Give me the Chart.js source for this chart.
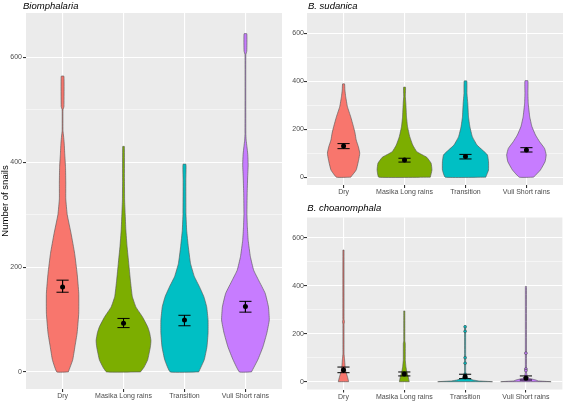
<!DOCTYPE html>
<html><head><meta charset="utf-8">
<script src="https://cdn.jsdelivr.net/npm/chart.js@4.4.0/dist/chart.umd.min.js"></script>
<style>
html,body{margin:0;padding:0;background:#fff;}
body{width:567px;height:401px;position:relative;overflow:hidden;}
canvas{position:absolute;}
</style></head><body>
<canvas id="c1" width="286" height="401" style="left:0;top:0;width:286px;height:401px"></canvas>
<canvas id="c2" width="277" height="200" style="left:290px;top:0;width:277px;height:200px"></canvas>
<canvas id="c3" width="277" height="201" style="left:290px;top:200px;width:277px;height:201px"></canvas>
<script>
// ---- DATA ----
const categories = ['Dry', 'Masika Long rains', 'Transition', 'Vuli Short rains'];
const yTicks = [0, 100, 200, 300, 400, 500, 600];

// violin profiles: [number of snails, relative density width]
// Biomphalaria
const bioDry = [[0,.21],[23,.37],[48,.45],[74,.53],[112,.59],[150,.59],[188,.53],[226,.44],[264,.31],[300,.17],[330,.117],[360,.117],[390,.108],[415,.08],[436,.06],[450,.036],[460,.015],[500,.015],[506,.05],[564,.05]];
const bioMasika = [[0,.62],[10,.76],[23,.88],[48,.98],[60,1],[75,.95],[86,.88],[105,.69],[124,.45],[144,.32],[175,.25],[207,.19],[239,.13],[271,.085],[302,.06],[328,.04],[366,.035],[430,.03]];
const bioTransition = [[0,.52],[23,.72],[48,.82],[74,.86],[99,.86],[124,.81],[143,.71],[162,.55],[182,.36],[207,.22],[239,.14],[270,.08],[302,.054],[366,.05],[396,.054]];
const bioVuli = [[0,.22],[23,.45],[48,.64],[74,.78],[99,.87],[124,.84],[150,.72],[175,.48],[194,.30],[220,.18],[251,.10],[277,.07],[302,.054],[340,.063],[370,.08],[395,.1],[415,.085],[430,.054],[442,.027],[455,.015],[605,.015],[612,.05],[645,.05]];
const bioMean = [162, 93, 99, 125];
const bioLow = [152, 84.5, 88, 114];
const bioHigh = [175, 102, 108, 134.6];

// B. sudanica
const sudDry = [[0,.26],[30,.46],[72,.55],[100,.59],[127,.54],[155,.46],[183,.42],[211,.36],[252,.26],[294,.14],[336,.077],[364,.048],[389,.036]];
const sudMasika = [[0,.94],[30,1],[58,.97],[83,.81],[106,.45],[134,.30],[169,.19],[211,.11],[252,.072],[308,.048],[336,.03],[375,.036]];
const sudTransition = [[0,.74],[30,.84],[65,.84],[93,.80],[113,.62],[134,.42],[169,.25],[211,.16],[252,.11],[308,.084],[350,.054],[401,.048]];
const sudVuli = [[0,.26],[30,.51],[65,.68],[93,.72],[120,.66],[148,.48],[176,.33],[211,.20],[252,.12],[308,.066],[350,.054],[402,.054]];
const sudMean = [130, 72, 86, 113];
const sudLow = [119, 63, 76, 105];
const sudHigh = [140, 79, 95, 123];

// B. choanomphala
const choDry = [[0,.19],[21,.144],[42,.085],[62,.06],[97,.036],[115,.02],[240,.02],[250,.036],[260,.02],[549,.02]];
const choMasika = [[0,.18],[21,.144],[42,.09],[62,.06],[90,.036],[160,.036],[170,.02],[295,.02]];
const choTransition = [[0,1],[3,.5],[7,.29],[14,.12],[21,.054],[30,.04],[40,.02],[229,.02]];
const choVuli = [[0,.92],[3,.45],[7,.36],[14,.12],[21,.054],[30,.036],[40,.02],[397,.02]];
const choMean = [49, 32, 21, 14];
const choLow = [37.5, 24, 12.5, 7];
const choHigh = [61, 40.5, 31, 24];
const choTransitionPoints = [229, 210, 100, 77, 30];
const choVuliPoints = [119, 53, 46];

// ---- STYLE ----
const colors = ['#F8766D', '#7CAE00', '#00BFC4', '#C77CFF'];
const FONT = '"Liberation Sans", Arial, sans-serif';

const bgPlugin = {
  id: 'panelBg',
  beforeDraw(chart) {
    const a = chart.chartArea, ctx = chart.ctx;
    ctx.save(); ctx.fillStyle = '#EBEBEB';
    ctx.fillRect(a.left, a.top, a.right - a.left, a.bottom - a.top);
    ctx.restore();
  }
};
const titlePlugin = {
  id: 'panelTitle',
  afterDraw(chart, args, opts) {
    const ctx = chart.ctx;
    ctx.save();
    ctx.font = 'italic 9.5px ' + FONT;
    ctx.fillStyle = '#000';
    ctx.textBaseline = 'alphabetic';
    ctx.textAlign = 'left';
    ctx.fillText(opts.text, opts.x, opts.y);
    ctx.restore();
  }
};

function makePanel(id, cfg) {
  const datasets = [];
  cfg.violins.forEach((prof, i) => {
    const cx = i + 1;
    const right = prof.map(([v, w]) => ({x: cx + w * 0.45, y: v}));
    const left = prof.slice().reverse().map(([v, w]) => ({x: cx - w * 0.45, y: v}));
    const pts = right.concat(left);
    pts.push(right[0]);
    datasets.push({data: pts, showLine: true, fill: 'shape', backgroundColor: colors[i],
      borderColor: 'rgba(85,85,85,0.9)', borderWidth: 0.7, pointRadius: 0,
      tension: cfg.tension, capBezierPoints: false, order: 3});
  });
  (cfg.jitter || []).forEach(j => {
    datasets.push({data: j.values.map(v => ({x: j.cat + 1, y: v})), showLine: false,
      pointRadius: 1.4, pointBackgroundColor: colors[j.cat], pointBorderColor: '#444', pointBorderWidth: 0.6, order: 2});
  });
  cfg.mean.forEach((m, i) => {
    const cx = i + 1, lo = cfg.low[i], hi = cfg.high[i];
    datasets.push({data: [{x: cx - 0.1, y: hi}, {x: cx + 0.1, y: hi}, {x: cx, y: null}, {x: cx, y: hi}, {x: cx, y: lo}, {x: cx, y: null}, {x: cx - 0.1, y: lo}, {x: cx + 0.1, y: lo}],
      showLine: true, spanGaps: false, borderColor: '#000', borderWidth: 1, pointRadius: 0, order: 1});
  });
  datasets.push({data: cfg.mean.map((m, i) => ({x: i + 1, y: m})), showLine: false,
    pointRadius: 2.5, pointBackgroundColor: '#000', pointBorderColor: '#000', pointBorderWidth: 0, order: 0});

  return new Chart(document.getElementById(id), {
    type: 'scatter',
    data: {datasets},
    plugins: [bgPlugin, titlePlugin],
    options: {
      responsive: false, animation: false, devicePixelRatio: 1,
      layout: {padding: cfg.padding},
      plugins: {legend: {display: false}, tooltip: {enabled: false},
        panelTitle: cfg.title},
      scales: {
        x: {
          type: 'linear', min: 0.4, max: 4.6,
          afterBuildTicks: s => { s.ticks = categories.map((c, i) => ({value: i + 1})); },
          afterFit: s => { s.height = cfg.xH; },
          ticks: {callback: v => categories[Math.round(v) - 1], color: '#4D4D4D', font: {size: 7, family: FONT}, padding: 0, maxRotation: 0, autoSkip: false},
          grid: {color: '#FFFFFF', lineWidth: 1.1, tickColor: '#333333', tickLength: 3},
          border: {display: false}
        },
        y: {
          type: 'linear', min: -32.6, max: 684.6,
          afterBuildTicks: s => { s.ticks = yTicks.map(v => ({value: v})); },
          afterFit: s => { s.width = cfg.yW; },
          ticks: {callback: v => (v % 200 === 0 ? String(v) : ''), color: '#4D4D4D', font: {size: 7, family: FONT}, padding: cfg.yPad, autoSkip: false},
          grid: {color: '#FFFFFF',
            lineWidth: c => (c.tick && c.tick.value % 200 === 0 ? 1.1 : 0.5),
            tickColor: c => (c.tick && c.tick.value % 200 === 0 ? '#333333' : 'rgba(0,0,0,0)'),
            tickLength: 3},
          border: {display: false},
          title: cfg.yTitle ? {display: true, text: 'Number of snails', color: '#000', font: {size: 9.5, family: FONT}, padding: 0} : {display: false}
        }
      }
    }
  });
}

makePanel('c1', {
  violins: [bioDry, bioMasika, bioTransition, bioVuli], mean: bioMean, low: bioLow, high: bioHigh,
  padding: {left: 0, right: 2, top: 13, bottom: 0}, yW: 26, xH: 12, yPad: 1, yTitle: true, tension: 0.12,
  title: {text: 'Biomphalaria', x: 23, y: 8.5}
});
makePanel('c2', {
  violins: [sudDry, sudMasika, sudTransition, sudVuli], mean: sudMean, low: sudLow, high: sudHigh,
  padding: {left: 0, right: 1, top: 13, bottom: 0}, yW: 17, xH: 15, yPad: 0, yTitle: false, tension: 0.12,
  title: {text: 'B. sudanica', x: 18, y: 8.5}
});
makePanel('c3', {
  violins: [choDry, choMasika, choTransition, choVuli], mean: choMean, low: choLow, high: choHigh,
  jitter: [{cat: 2, values: choTransitionPoints}, {cat: 3, values: choVuliPoints}],
  padding: {left: 0, right: 1, top: 17.5, bottom: 0}, yW: 17, xH: 11.5, yPad: 0, yTitle: false, tension: 0.001,
  title: {text: 'B. choanomphala', x: 17.3, y: 10.5}
});
</script>
</body></html>
